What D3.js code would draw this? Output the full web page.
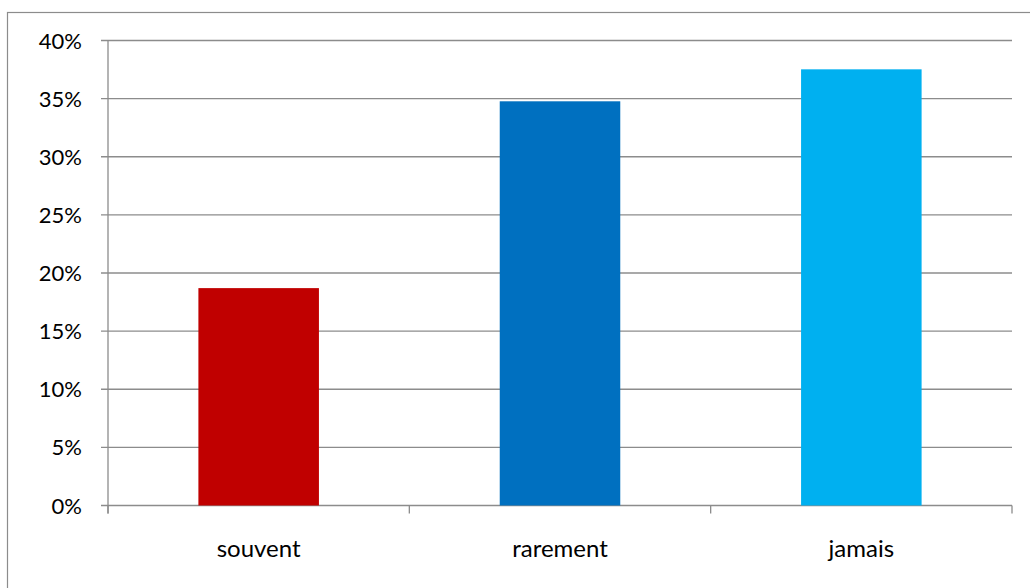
<!DOCTYPE html>
<html>
<head>
<meta charset="utf-8">
<script src="https://cdn.jsdelivr.net/npm/d3@7"></script>
<style>
  html, body { margin: 0; padding: 0; background: #fff; }
  svg { display: block; }
  text { font-family: Lato, "Open Sans", sans-serif; fill: #000; }
</style>
</head>
<body>
<svg id="chart" width="1030" height="588"></svg>
<script>
// Frequency shares by answer
const categories = ["souvent", "rarement", "jamais"];
const values = [0.187, 0.3477, 0.3752];
const colors = ["#C00000", "#0070C0", "#00B0F0"];
const yTicks = [0, 0.05, 0.10, 0.15, 0.20, 0.25, 0.30, 0.35, 0.40];

const svg = d3.select("#chart");
const plot = { left: 108, right: 1012, top: 40.5, bottom: 505.5 };
const gridColor = "#8c8c8c";

// Outer frame (right and bottom edges run past the visible area)
svg.append("rect")
  .attr("x", 7.5).attr("y", 12.5)
  .attr("width", 1100).attr("height", 700)
  .attr("fill", "none").attr("stroke", gridColor).attr("stroke-width", 1.2);

const x = d3.scaleBand()
  .domain(categories)
  .range([plot.left, plot.right])
  .paddingInner(0.6)
  .paddingOuter(0.3);

const y = d3.scaleLinear()
  .domain([0, 0.40])
  .range([plot.bottom, plot.top]);

// Horizontal gridlines with left tick stubs
svg.append("g")
  .selectAll("line")
  .data(yTicks)
  .join("line")
  .attr("x1", plot.left - 7)
  .attr("x2", plot.right)
  .attr("y1", d => y(d))
  .attr("y2", d => y(d))
  .attr("stroke", gridColor)
  .attr("stroke-width", 1.3);

// Y axis labels
svg.append("g")
  .selectAll("text")
  .data(yTicks)
  .join("text")
  .attr("x", 82)
  .attr("y", d => y(d) + 8)
  .attr("text-anchor", "end")
  .attr("font-size", 22)
  .text(d3.format(".0%"));

// Bars
svg.append("g")
  .selectAll("rect")
  .data(categories)
  .join("rect")
  .attr("x", d => x(d))
  .attr("width", x.bandwidth())
  .attr("y", (d, i) => y(values[i]))
  .attr("height", (d, i) => y(0) - y(values[i]))
  .attr("fill", (d, i) => colors[i]);

// Y axis line
svg.append("line")
  .attr("x1", plot.left).attr("x2", plot.left)
  .attr("y1", plot.top).attr("y2", plot.bottom + 8)
  .attr("stroke", gridColor).attr("stroke-width", 1.3);

// Category boundary ticks on the x axis
const boundaries = d3.range(categories.length + 1)
  .map(i => plot.left + (plot.right - plot.left) * i / categories.length);
svg.append("g")
  .selectAll("line")
  .data(boundaries)
  .join("line")
  .attr("x1", d => d).attr("x2", d => d)
  .attr("y1", plot.bottom).attr("y2", plot.bottom + 8)
  .attr("stroke", gridColor).attr("stroke-width", 1.3);

// Category labels
svg.append("g")
  .selectAll("text")
  .data(categories)
  .join("text")
  .attr("x", d => x(d) + x.bandwidth() / 2)
  .attr("y", 557)
  .attr("text-anchor", "middle")
  .attr("font-size", 24)
  .text(d => d);
</script>
</body>
</html>
